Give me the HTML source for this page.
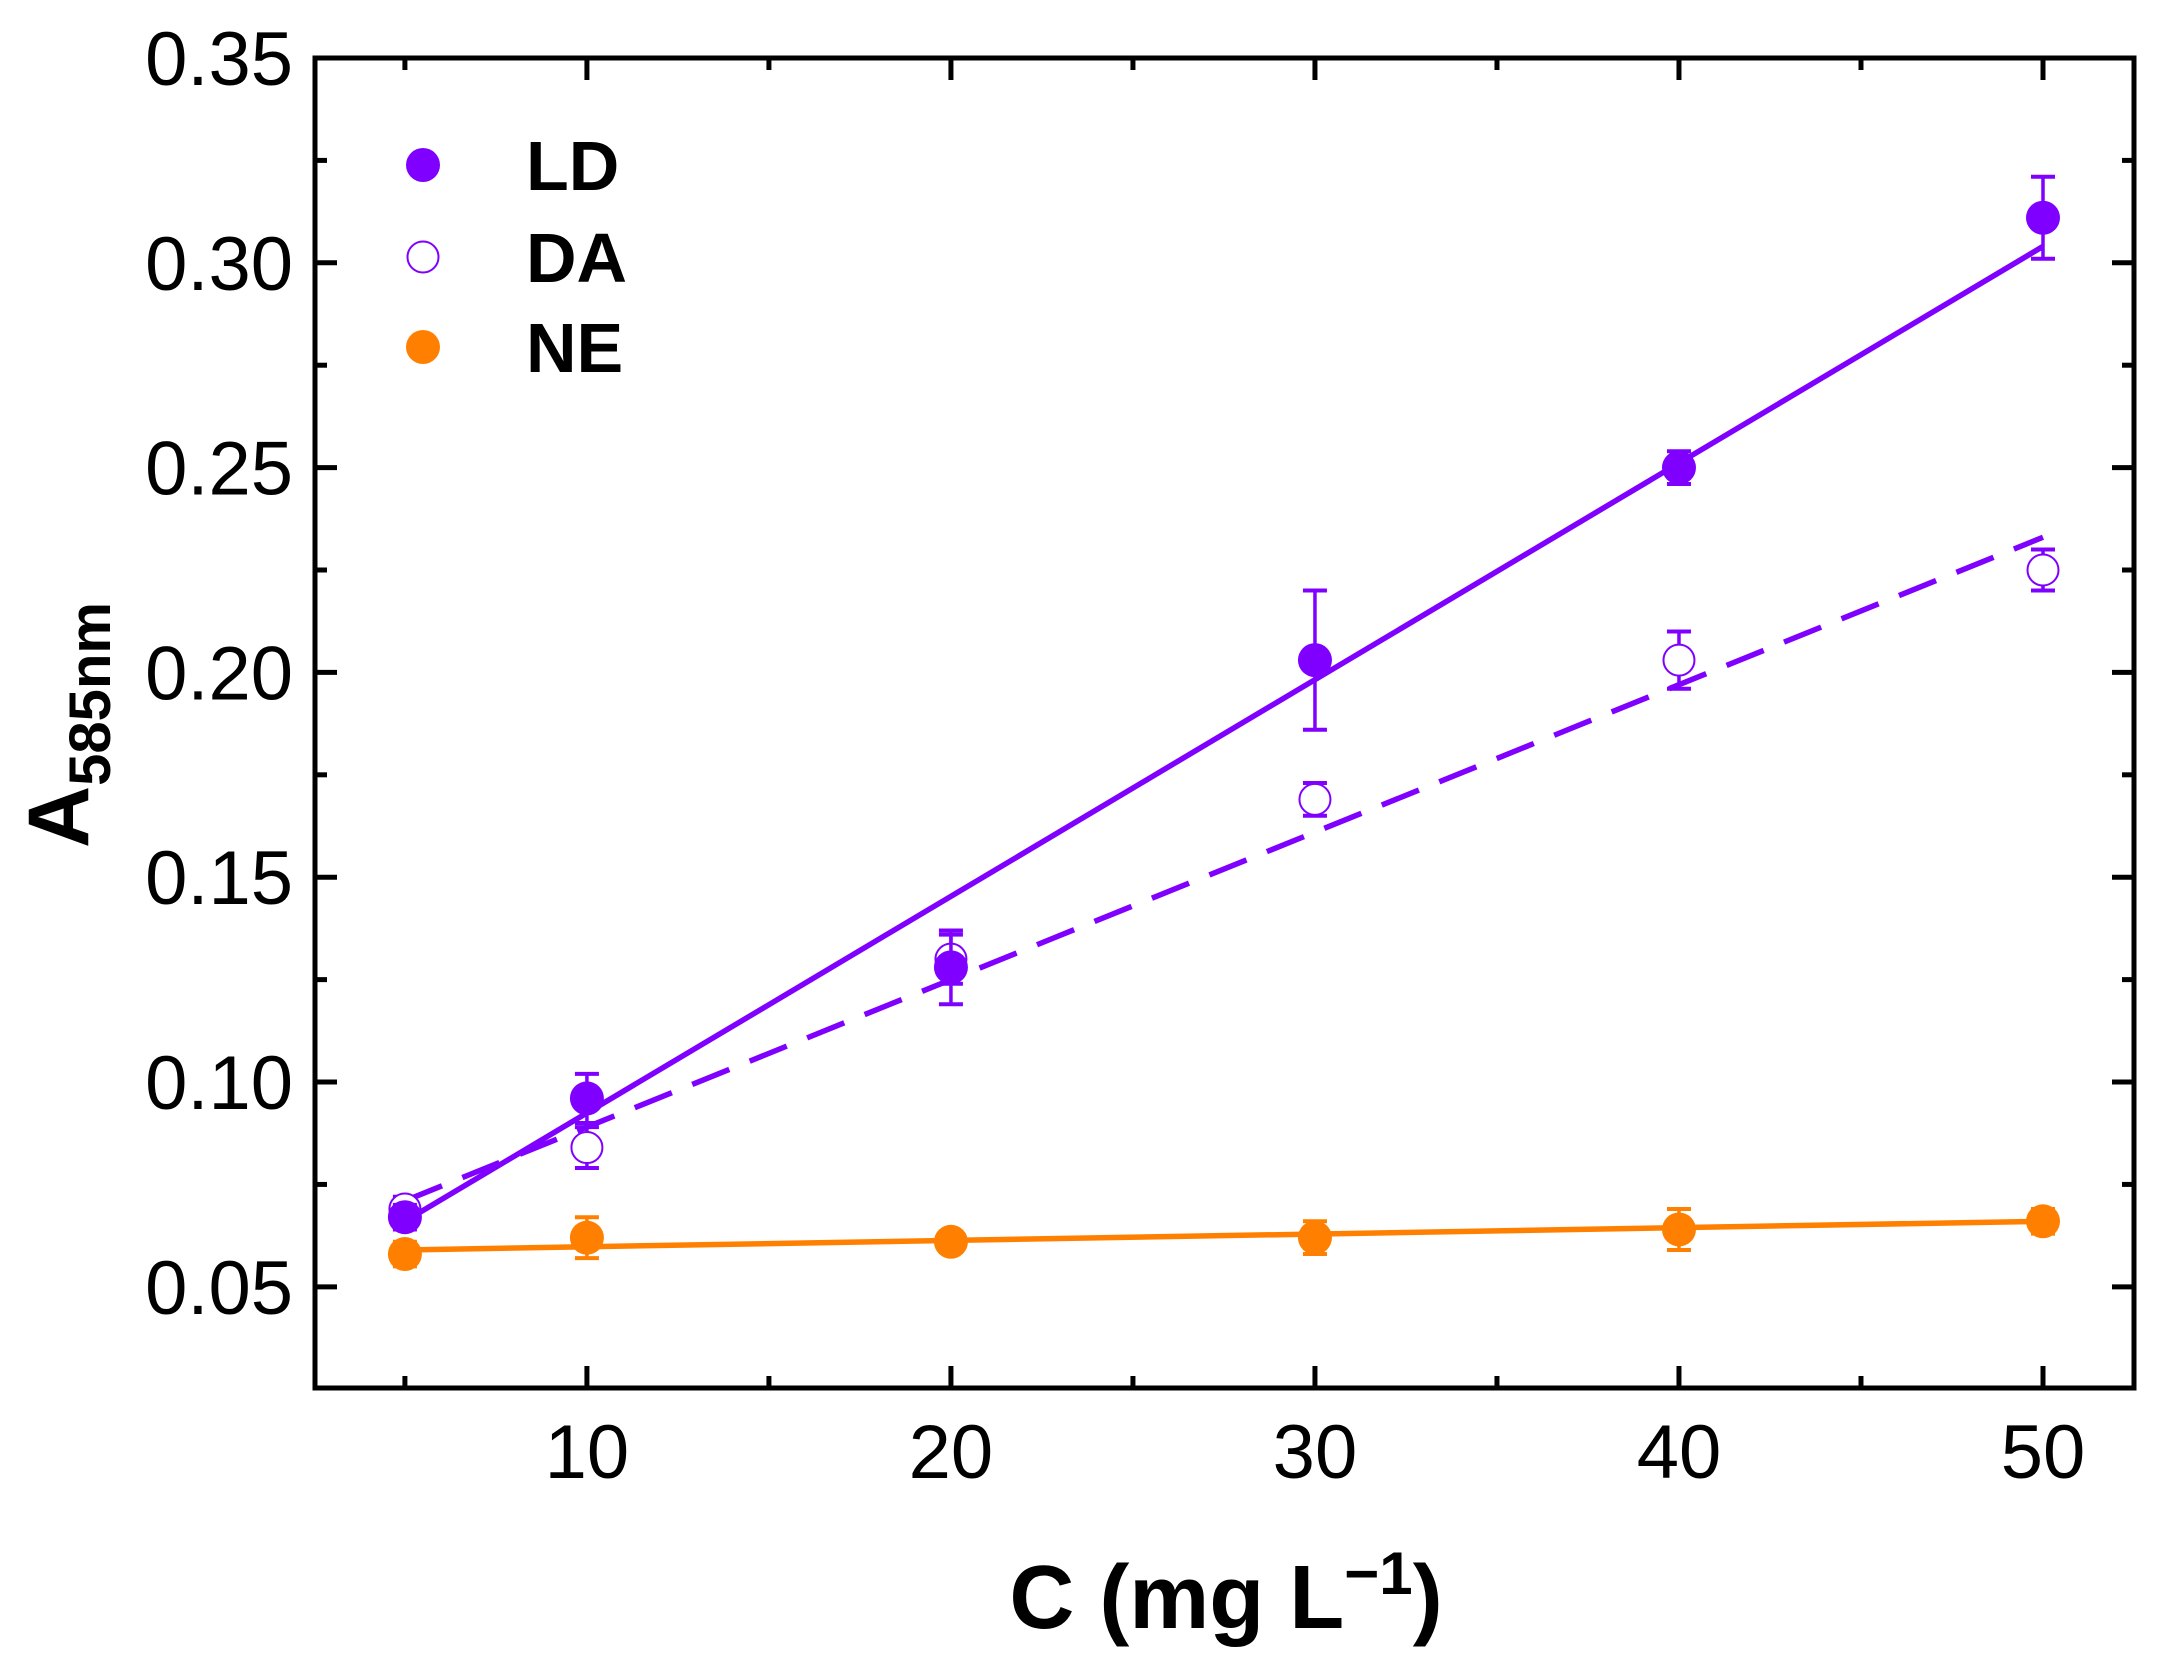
<!DOCTYPE html>
<html><head><meta charset="utf-8"><style>
html,body{margin:0;padding:0;background:#fff;}
svg{display:block;font-family:"Liberation Sans",Arial,sans-serif;}
</style></head><body>
<svg id="chart" width="2162" height="1668" viewBox="0 0 2162 1668"></svg>
<script>
const categories=[5,10,20,30,40,50];
const ldValues=[0.067,0.096,0.128,0.203,0.250,0.311];
const ldErrors=[0.003,0.006,0.009,0.017,0.004,0.010];
const daValues=[0.069,0.084,0.130,0.169,0.203,0.225];
const daErrors=[0.003,0.005,0.006,0.004,0.007,0.005];
const neValues=[0.058,0.062,0.061,0.062,0.064,0.066];
const neErrors=[0.003,0.005,0.002,0.004,0.005,0.003];
const ldFit=[[5,0.066],[50,0.304]];
const daFit=[[5,0.071],[50,0.233]];
const neFit=[[5,0.059],[50,0.066]];
const xTicks=[10,20,30,40,50];
const xMinor=[5,15,25,35,45];
const yTicks=[0.05,0.10,0.15,0.20,0.25,0.30,0.35];
const yTickLabels=["0.05","0.10","0.15","0.20","0.25","0.30","0.35"];
const yMinor=[0.075,0.125,0.175,0.225,0.275,0.325];

const L=315,R=2134,T=58,B=1388;
const X0=2.53,X1=52.5,Y0=0.0253,Y1=0.35;
const sx=v=>L+(v-X0)/(X1-X0)*(R-L);
const sy=v=>B-(v-Y0)/(Y1-Y0)*(B-T);
const svg=document.getElementById('chart');
const NS='http://www.w3.org/2000/svg';
function mk(tag,attrs,parent){const e=document.createElementNS(NS,tag);for(const k in attrs)e.setAttribute(k,attrs[k]);(parent||svg).appendChild(e);return e;}
const PUR='#8000ff',ORG='#ff8000';

const tk=mk('g',{stroke:'#000','stroke-width':5});


xTicks.forEach(v=>{const x=sx(v);mk('line',{x1:x,y1:B,x2:x,y2:B-22},tk);mk('line',{x1:x,y1:T,x2:x,y2:T+22},tk);});
xMinor.forEach(v=>{const x=sx(v);mk('line',{x1:x,y1:B,x2:x,y2:B-12},tk);mk('line',{x1:x,y1:T,x2:x,y2:T+12},tk);});
yTicks.forEach(v=>{const y=sy(v);mk('line',{x1:L,y1:y,x2:L+22,y2:y},tk);mk('line',{x1:R,y1:y,x2:R-22,y2:y},tk);});
yMinor.forEach(v=>{const y=sy(v);mk('line',{x1:L,y1:y,x2:L+12,y2:y},tk);mk('line',{x1:R,y1:y,x2:R-12,y2:y},tk);});

xTicks.forEach(v=>{const t=mk('text',{x:sx(v),y:1478,'font-size':76,'text-anchor':'middle'});t.textContent=v;

});
yTicks.forEach((v,i)=>{const t=mk('text',{x:293,y:sy(v)+27,'font-size':76,'text-anchor':'end'});t.textContent=yTickLabels[i];

});

function fit(f,color,dash,name){const l=mk('line',{x1:sx(f[0][0]),y1:sy(f[0][1]),x2:sx(f[1][0]),y2:sy(f[1][1]),stroke:color,'stroke-width':5.5});
if(dash)l.setAttribute('stroke-dasharray',dash);

}
fit(neFit,ORG,null,'ne-fit-line');
fit(daFit,PUR,'40 22','da-fit-line');
fit(ldFit,PUR,null,'ld-fit-line');

function series(vals,errs,color,filled,name){
 const g=mk('g',{});
 
 
 categories.forEach((c,i)=>{
  const x=sx(c),y=sy(vals[i]),y1=sy(vals[i]+errs[i]),y2=sy(vals[i]-errs[i]);
  mk('line',{x1:x,y1:y1,x2:x,y2:y2,stroke:color,'stroke-width':3.5},g);
  mk('line',{x1:x-12,y1:y1,x2:x+12,y2:y1,stroke:color,'stroke-width':4},g);
  mk('line',{x1:x-12,y1:y2,x2:x+12,y2:y2,stroke:color,'stroke-width':4},g);
  const m=mk('circle',{cx:x,cy:y,r:filled?17:15.5,fill:filled?color:'#fff',stroke:color,'stroke-width':filled?0:2},g);
  
  
 });
}
series(neValues,neErrors,ORG,true,'ne-series');
series(daValues,daErrors,PUR,false,'da-series');
series(ldValues,ldErrors,PUR,true,'ld-series');

const fr=mk('rect',{x:L,y:T,width:R-L,height:B-T,fill:'none',stroke:'#000','stroke-width':5});


</script>
<svg style="position:absolute;left:0;top:0" width="2162" height="1668">
 <g font-family="Liberation Sans, Arial, sans-serif" font-weight="bold" font-size="70">
  <g><circle cx="423" cy="165" r="17" fill="#8000ff"/><text x="526" y="190">LD</text></g>
  <g><circle cx="423" cy="257" r="15.5" fill="#fff" stroke="#8000ff" stroke-width="2"/><text x="526" y="282">DA</text></g>
  <g><circle cx="423" cy="347" r="17" fill="#ff8000"/><text x="526" y="372">NE</text></g>
 </g>
 <text x="1226" y="1628" text-anchor="middle" font-family="Liberation Sans, Arial, sans-serif" font-weight="bold" font-size="90">C (mg L<tspan dy="-34" font-size="60">−1</tspan><tspan dy="34">)</tspan></text>
 <text transform="translate(88,725) rotate(-90)" text-anchor="middle" font-family="Liberation Sans, Arial, sans-serif" font-weight="bold" font-size="86">A<tspan dy="22" font-size="58">585nm</tspan></text>
</svg>
</body></html>
